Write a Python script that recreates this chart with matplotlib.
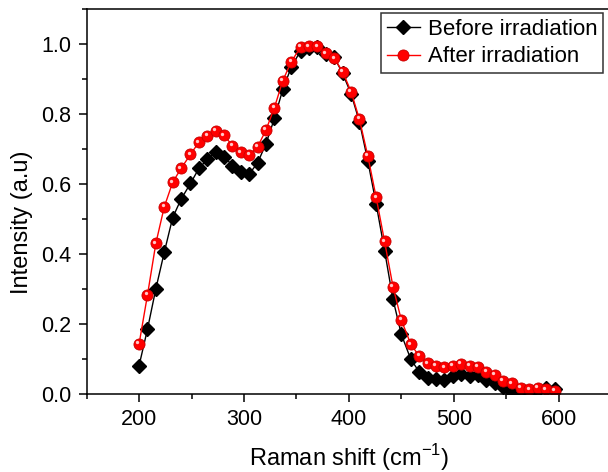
import matplotlib.pyplot as plt
from matplotlib.ticker import MultipleLocator
from matplotlib.transforms import ScaledTranslation

plt.rcParams['font.family'] = ['Liberation Sans', 'DejaVu Sans']

# Raman shift (cm-1)
shift = [200, 208, 216, 224, 232, 240, 249, 257, 265, 273,
         281, 289, 297, 305, 313, 321, 329, 337, 345, 354,
         362, 370, 378, 386, 394, 402, 410, 418, 426, 434,
         442, 450, 459, 467, 475, 483, 491, 499, 507, 515,
         523, 531, 539, 547, 555, 564, 572, 580, 588, 596]

before = [0.080, 0.184, 0.300, 0.404, 0.503, 0.556, 0.601, 0.644, 0.670, 0.690,
          0.678, 0.652, 0.634, 0.628, 0.660, 0.715, 0.787, 0.870, 0.933, 0.981,
          0.988, 0.990, 0.970, 0.962, 0.916, 0.858, 0.778, 0.666, 0.542, 0.409,
          0.270, 0.169, 0.098, 0.062, 0.043, 0.041, 0.039, 0.050, 0.056, 0.051,
          0.053, 0.039, 0.029, 0.020, 0.005, 0.000, 0.000, 0.010, 0.017, 0.012]

after = [0.142, 0.282, 0.430, 0.534, 0.604, 0.644, 0.684, 0.719, 0.738, 0.751,
         0.739, 0.709, 0.690, 0.682, 0.706, 0.754, 0.818, 0.895, 0.949, 0.991,
         0.993, 0.993, 0.973, 0.959, 0.921, 0.864, 0.785, 0.680, 0.561, 0.435,
         0.306, 0.210, 0.141, 0.107, 0.086, 0.080, 0.075, 0.080, 0.084, 0.080,
         0.077, 0.062, 0.053, 0.037, 0.029, 0.017, 0.012, 0.017, 0.012, 0.007]

fig = plt.figure(figsize=(6.08, 4.72), dpi=100)
ax = fig.add_axes([0.1425, 0.1663, 0.8627, 0.8146])

ax.plot(shift, before, color='black', linewidth=1, marker='D', markersize=7,
        label='Before irradiation')
ax.plot(shift, after, color='red', linewidth=1, marker='o', markersize=8,
        markeredgecolor='#c80000', markeredgewidth=0.6, label='After irradiation')

# little shine on the red balls
shine = ax.transData + ScaledTranslation(-1.2 / 72, 1.2 / 72, fig.dpi_scale_trans)
ax.plot(shift, after, linestyle='none', marker='o', markersize=2.4,
        color='#ffc8c8', markeredgewidth=0, transform=shine)

ax.set_xlim(150, 650)
ax.set_ylim(0, 1.1)
ax.xaxis.set_major_locator(MultipleLocator(100))
ax.xaxis.set_minor_locator(MultipleLocator(50))
ax.yaxis.set_major_locator(MultipleLocator(0.2))
ax.yaxis.set_minor_locator(MultipleLocator(0.1))
ax.yaxis.set_major_formatter(plt.FormatStrFormatter('%.1f'))

ax.tick_params(which='major', direction='out', length=6, width=1.1, labelsize=15.5,
               pad=5, top=False, right=False)
ax.tick_params(which='minor', direction='out', length=3.5, width=1.1,
               top=False, right=False)
for sp in ax.spines.values():
    sp.set_linewidth(1.1)

ax.set_xlabel('Raman shift (cm$^{\\mathregular{-1}}$)', fontsize=17, labelpad=9)
ax.set_ylabel('Intensity (a.u)', fontsize=17, labelpad=6, y=0.445)

leg = ax.legend(loc='upper left', bbox_to_anchor=(0.561, 0.99), fontsize=16,
                frameon=True, fancybox=False, edgecolor='black', handlelength=1.5,
                borderpad=0.26, labelspacing=0.3, handletextpad=0.36,
                borderaxespad=0)
leg.get_frame().set_linewidth(1.1)

fig.savefig('out.png', dpi=100)
